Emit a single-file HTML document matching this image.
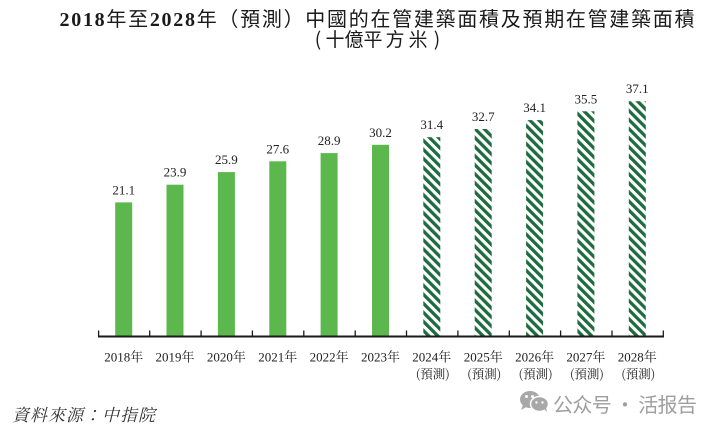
<!DOCTYPE html>
<html><head><meta charset="utf-8"><style>
html,body{margin:0;padding:0;background:#fff;}
svg{display:block;}
.t{font-family:"Noto Sans CJK TC","Noto Sans CJK SC",sans-serif;fill:#1a1a1a;}
.n{font-family:"Liberation Serif",serif;font-weight:bold;}
.v{font-family:"Liberation Serif",serif;font-size:13px;fill:#222;text-anchor:middle;}
.x{font-family:"Liberation Serif","Noto Serif CJK TC","Noto Serif CJK SC",serif;font-size:13px;fill:#222;text-anchor:middle;}
.p{font-family:"Noto Serif CJK TC","Noto Serif CJK SC",serif;font-size:12.5px;fill:#222;text-anchor:middle;}
</style></head><body>
<svg width="720" height="434" viewBox="0 0 720 434" xmlns="http://www.w3.org/2000/svg">
<defs>
<pattern id="h" patternUnits="userSpaceOnUse" width="6.4" height="20" patternTransform="rotate(-45)">
<rect x="0" y="0" width="3.3" height="20" fill="#1d6b3f"/>
</pattern>
</defs>
<rect width="720" height="434" fill="#fff"/>
<!-- title -->
<text class="t" x="377" y="26" font-size="20" text-anchor="middle" textLength="635" lengthAdjust="spacing"><tspan class="n">2018</tspan>年至<tspan class="n">2028</tspan>年（預測）中國的在管建築面積及預期在管建築面積</text>
<g class="t" font-size="19" text-anchor="middle">
<text x="318" y="46">(</text>
<text x="335" y="46">十</text>
<text x="354" y="46">億</text>
<text x="373" y="46">平</text>
<text x="395" y="46">方</text>
<text x="418" y="46">米</text>
<text x="437" y="46">)</text>
</g>

<!-- solid bars -->
<g fill="#5cb84c">
<rect x="115.2" y="202.4" width="17" height="133.6"/>
<rect x="166.5" y="184.7" width="17" height="151.3"/>
<rect x="217.9" y="172.1" width="17" height="163.9"/>
<rect x="269.3" y="161.3" width="17" height="174.7"/>
<rect x="320.6" y="153.1" width="17" height="182.9"/>
<rect x="372.0" y="144.8" width="17" height="191.2"/>
</g>
<!-- hatched bars -->
<g fill="url(#h)">
<rect x="423.3" y="137.2" width="17" height="198.8"/>
<rect x="474.7" y="129.0" width="17" height="207.0"/>
<rect x="526.1" y="120.1" width="17" height="215.9"/>
<rect x="577.4" y="111.3" width="17" height="224.7"/>
<rect x="628.8" y="101.2" width="17" height="234.8"/>
</g>

<!-- value labels -->
<text class="v" x="123.7" y="194.4">21.1</text>
<text class="v" x="175.0" y="176.7">23.9</text>
<text class="v" x="226.4" y="164.1">25.9</text>
<text class="v" x="277.8" y="153.3">27.6</text>
<text class="v" x="329.1" y="145.1">28.9</text>
<text class="v" x="380.5" y="136.8">30.2</text>
<text class="v" x="431.8" y="129.2">31.4</text>
<text class="v" x="483.2" y="121.0">32.7</text>
<text class="v" x="534.6" y="112.1">34.1</text>
<text class="v" x="585.9" y="103.3">35.5</text>
<text class="v" x="637.3" y="93.2">37.1</text>

<!-- axis -->
<rect x="98" y="335.5" width="566" height="2" fill="#1a1a1a"/>
<g stroke="#1a1a1a" stroke-width="1.3">
<line x1="98.6" y1="330.5" x2="98.6" y2="336"/>
<line x1="149.7" y1="330.5" x2="149.7" y2="336"/>
<line x1="201.1" y1="330.5" x2="201.1" y2="336"/>
<line x1="252.4" y1="330.5" x2="252.4" y2="336"/>
<line x1="303.8" y1="330.5" x2="303.8" y2="336"/>
<line x1="355.2" y1="330.5" x2="355.2" y2="336"/>
<line x1="406.5" y1="330.5" x2="406.5" y2="336"/>
<line x1="457.9" y1="330.5" x2="457.9" y2="336"/>
<line x1="509.3" y1="330.5" x2="509.3" y2="336"/>
<line x1="560.6" y1="330.5" x2="560.6" y2="336"/>
<line x1="612.0" y1="330.5" x2="612.0" y2="336"/>
<line x1="663.3" y1="330.5" x2="663.3" y2="336"/>
</g>

<!-- x labels -->
<text class="x" x="123.7" y="361.5">2018年</text>
<text class="x" x="175.0" y="361.5">2019年</text>
<text class="x" x="226.4" y="361.5">2020年</text>
<text class="x" x="277.8" y="361.5">2021年</text>
<text class="x" x="329.1" y="361.5">2022年</text>
<text class="x" x="380.5" y="361.5">2023年</text>
<text class="x" x="431.8" y="361.5">2024年</text>
<text class="x" x="483.2" y="361.5">2025年</text>
<text class="x" x="534.6" y="361.5">2026年</text>
<text class="x" x="585.9" y="361.5">2027年</text>
<text class="x" x="637.3" y="361.5">2028年</text>
<g class="p">
<text x="432.8" y="378.5">(預測)</text>
<text x="484.2" y="378.5">(預測)</text>
<text x="535.6" y="378.5">(預測)</text>
<text x="586.9" y="378.5">(預測)</text>
<text x="638.3" y="378.5">(預測)</text>
</g>

<!-- source -->
<text x="12" y="421" font-size="17" font-style="italic" fill="#333" font-family="'Noto Serif CJK TC','Noto Serif CJK SC',serif" textLength="143" lengthAdjust="spacing">資料來源：中指院</text>

<!-- watermark -->
<g>
<ellipse cx="530" cy="399.5" rx="10" ry="8.5" fill="#a8a8a8"/>
<path d="M523 405 L521 410 L527 406.5 Z" fill="#a8a8a8"/>
<ellipse cx="539.5" cy="404" rx="9" ry="7.5" fill="#a8a8a8" stroke="#fff" stroke-width="1.5"/>
<path d="M544 409 L547 412 L546 407 Z" fill="#a8a8a8"/>
<circle cx="526.5" cy="396.5" r="1.5" fill="#fff"/>
<circle cx="532.5" cy="396.5" r="1.5" fill="#fff"/>
<circle cx="536.5" cy="402.5" r="1.2" fill="#fff"/>
<circle cx="542.5" cy="402.5" r="1.2" fill="#fff"/>
</g>
<text x="553" y="412" font-size="20" fill="#9e9e9e" font-family="'Noto Sans CJK SC',sans-serif" textLength="144" lengthAdjust="spacing">公众号 · 活报告</text>
</svg>
</body></html>
